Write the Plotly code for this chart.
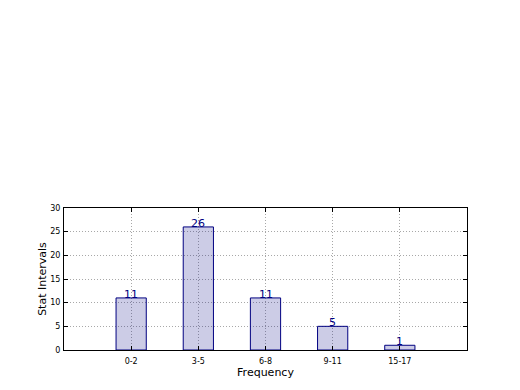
import plotly.graph_objects as go

categories = ["0-2", "3-5", "6-8", "9-11", "15-17"]
counts = [11, 26, 11, 5, 1]
y_ticks = [0, 5, 10, 15, 20, 25, 30]

positions = list(range(len(categories)))

fig = go.Figure()
fig.add_trace(go.Bar(
    x=positions, y=counts, width=0.45,
    marker=dict(color="rgba(0,0,128,0.2)", line=dict(color="navy", width=1)),
    hoverinfo="skip",
))
for p, c in zip(positions, counts):
    fig.add_annotation(x=p, y=c, text=str(c), showarrow=False, yanchor="bottom",
                       yshift=-5, font=dict(color="navy", size=11, family="DejaVu Sans"))

axis_common = dict(showline=True, linecolor="black", linewidth=1, mirror="allticks",
                   ticks="inside", ticklen=4, tickcolor="black", automargin=False,
                   showgrid=True, gridcolor="#a8a8a8", griddash="1px,2px", gridwidth=1,
                   zeroline=False, tickfont=dict(size=8, family="DejaVu Sans", color="black"))

fig.update_xaxes(range=[-1, 5], tickvals=positions, ticktext=categories, ticklabelstandoff=3,
                 title=dict(text="Frequency", font=dict(size=11, family="DejaVu Sans", color="black"), standoff=2),
                 **axis_common)
fig.update_yaxes(range=[0, 30], tickvals=y_ticks, ticklabelstandoff=1,
                 title=dict(text="Stat Intervals", font=dict(size=11, family="DejaVu Sans", color="black"), standoff=1),
                 **axis_common)

fig.update_layout(width=504, height=374, margin=dict(l=56, r=45, t=200, b=32),
                  plot_bgcolor="white", paper_bgcolor="white", showlegend=False,
                  font=dict(family="DejaVu Sans"))
fig.write_html("out.html")
